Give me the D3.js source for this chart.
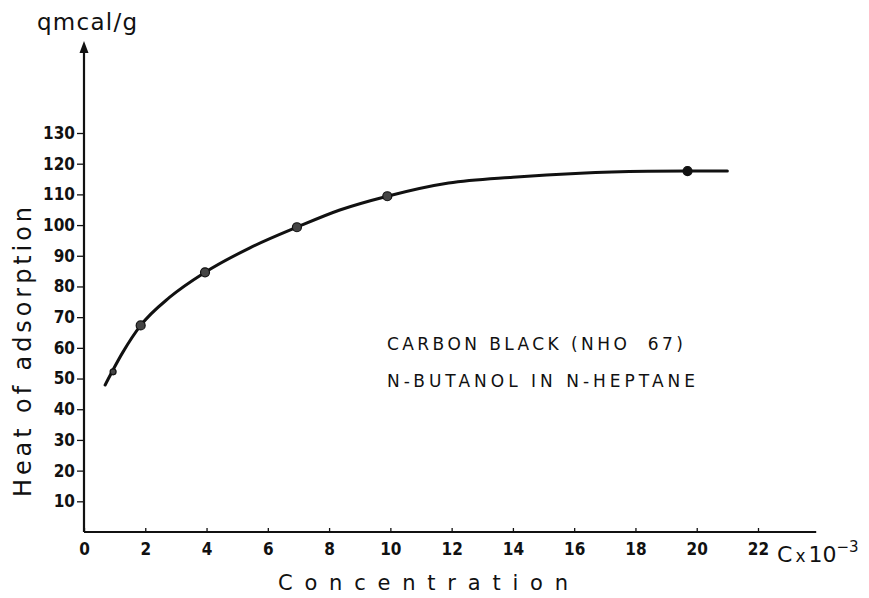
<!DOCTYPE html>
<html>
<head>
<meta charset="utf-8">
<script src="https://cdn.jsdelivr.net/npm/d3@7"></script>
<style>
  body { margin: 0; background: #fff; }
  svg { display: block; }
</style>
</head>
<body>
<svg class="chart"></svg>
<script>
// heat of adsorption vs concentration (n-butanol in n-heptane)

// measured points
var pointX = [0.95, 1.85, 3.95, 6.95, 9.9, 19.7];
var pointY = [52.2, 67.3, 84.6, 99.3, 109.4, 117.6];

// hand drawn curve
var curveX = [0.69, 1.27, 1.85, 2.8, 3.95, 5.4, 6.95, 8.35, 9.9, 11.9, 14.0, 16.2, 18.4, 19.7, 21.0];
var curveY = [47.9, 58.6, 67.3, 76.5, 84.6, 92.5, 99.3, 104.9, 109.4, 113.7, 115.6, 116.9, 117.5, 117.6, 117.6];

var xTicks = [0, 2, 4, 6, 8, 10, 12, 14, 16, 18, 20, 22];
var yTicks = [10, 20, 30, 40, 50, 60, 70, 80, 90, 100, 110, 120, 130];

var noteLines = ["CARBON BLACK (NHO  67)", "N-BUTANOL IN N-HEPTANE"];

var width = 869;
var height = 598;
var ink = "#111";
var tickFont = "'Liberation Sans Narrow', 'DejaVu Sans Condensed', sans-serif";
var textFont = "'DejaVu Sans', sans-serif";

var x = d3.scaleLinear().domain([0, 22]).range([84, 758]);
var y = d3.scaleLinear().domain([0, 130]).range([532, 133]);

var xEnd = 23.9;   // x axis runs a bit past the last tick
var yTop = 160;    // arrow tip of the y axis

var svg = d3.select(".chart")
  .attr("width", width)
  .attr("height", height);

// x axis
var gx = svg.append("g")
  .attr("transform", "translate(0," + y(0) + ")")
  .call(d3.axisBottom(x).tickValues(xTicks).tickSize(-4).tickPadding(11));
gx.select(".domain").remove();
gx.selectAll(".tick line").attr("stroke", ink).attr("stroke-width", 1.3);
gx.selectAll(".tick text")
  .attr("fill", ink)
  .style("font", "bold 17px " + tickFont);
gx.append("line")
  .attr("x1", x(0)).attr("x2", x(xEnd))
  .attr("stroke", ink).attr("stroke-width", 2);

// y axis
var gy = svg.append("g")
  .attr("transform", "translate(" + x(0) + ",0)")
  .call(d3.axisLeft(y).tickValues(yTicks).tickSize(7).tickPadding(2));
gy.select(".domain").remove();
gy.selectAll(".tick line").attr("stroke", ink).attr("stroke-width", 1.3);
gy.selectAll(".tick text")
  .attr("fill", ink)
  .style("font", "bold 17px " + tickFont);
gy.append("line")
  .attr("y1", y(0)).attr("y2", y(yTop) + 8)
  .attr("stroke", ink).attr("stroke-width", 2.2);
gy.append("path")
  .attr("d", "M0," + y(yTop) + "L-4.5," + (y(yTop) + 12) + "L4.5," + (y(yTop) + 12) + "Z")
  .attr("fill", ink);

// unit labels
svg.append("text")
  .attr("x", 37).attr("y", 30)
  .attr("textLength", 100)
  .attr("fill", ink)
  .style("font", "23px " + textFont)
  .text("qmcal/g");

var cx = svg.append("text")
  .attr("x", x(22) + 19).attr("y", 562)
  .attr("fill", ink)
  .style("font", "22px " + textFont);
cx.append("tspan").text("C");
cx.append("tspan").attr("dx", 3).style("font-size", "17px").text("x");
cx.append("tspan").attr("dx", 3).text("10");
cx.append("tspan").attr("dy", -10).style("font-size", "15px").text("−3");

// axis titles
svg.append("text")
  .attr("x", 278).attr("y", 590)
  .attr("textLength", 290)
  .attr("fill", ink)
  .style("font", "21px " + textFont)
  .text("Concentration");

svg.append("text")
  .attr("transform", "translate(31,497) rotate(-90)")
  .attr("textLength", 290)
  .attr("fill", ink)
  .style("font", "24px " + textFont)
  .text("Heat of adsorption");

// curve
var line = d3.line()
  .x(function(d) { return x(d[0]); })
  .y(function(d) { return y(d[1]); })
  .curve(d3.curveMonotoneX);

svg.append("path")
  .datum(d3.zip(curveX, curveY))
  .attr("d", line)
  .attr("fill", "none")
  .attr("stroke", ink)
  .attr("stroke-width", 3)
  .attr("stroke-linecap", "round");

// points
svg.selectAll(".pt")
  .data(d3.zip(pointX, pointY))
  .join("circle")
  .attr("class", "pt")
  .attr("cx", function(d) { return x(d[0]); })
  .attr("cy", function(d) { return y(d[1]); })
  .attr("r", function(d, i) { return i === 0 ? 3 : 4.5; })
  .attr("fill", function(d, i) { return i === pointX.length - 1 ? ink : "#444"; })
  .attr("stroke", ink)
  .attr("stroke-width", 1.2);

// annotation
svg.selectAll(".note")
  .data(noteLines)
  .join("text")
  .attr("class", "note")
  .attr("x", 387)
  .attr("y", function(d, i) { return 350 + i * 37; })
  .attr("textLength", function(d, i) { return i === 0 ? 296 : 308; })
  .attr("fill", ink)
  .style("font", "17px " + textFont)
  .style("white-space", "pre")
  .text(function(d) { return d; });
</script>
</body>
</html>
